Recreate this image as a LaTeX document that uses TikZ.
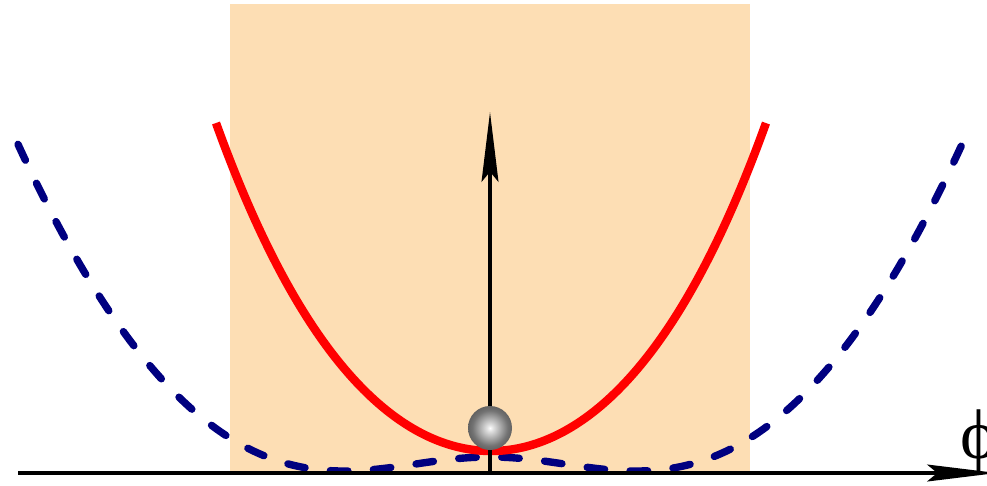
\documentclass[tikz,border=0pt]{standalone}
\usepackage{fontspec}
\setmainfont{Liberation Serif}
\usetikzlibrary{arrows.meta}
\definecolor{peach}{RGB}{253,222,180}
\definecolor{navyb}{RGB}{0,0,128}
\pgfdeclareradialshading{sphereshade}{\pgfpoint{0bp}{0bp}}{color(0bp)=(white); color(3bp)=(white!90!black); color(20bp)=(black!55); color(38bp)=(black!78); color(50bp)=(black!90)}
\tikzset{
  axisline/.style={line width=2pt, -{Stealth[length=39.7pt, width=9.6pt, inset=5.7pt]}},
  redcurve/.style={red, line width=4.8pt},
  bluecurve/.style={navyb, line width=4.2pt, line cap=round, dash pattern=on 10pt off 14.5pt},
  sphere/.style={circle, minimum size=0.88cm, inner sep=0pt, shading=sphereshade},
  philabel/.style={inner sep=0pt, font=\fontsize{40}{40}\selectfont}
}
\begin{document}
\begin{tikzpicture}[x=0.02cm, y=-0.02cm]
\useasboundingbox (0,0) rectangle (987,485);
\clip (0,0) rectangle (987,485);
\fill[peach] (230,4) rectangle (750,473);
\draw[bluecurve] plot[domain=-4.72:4.72, samples=200, smooth] ({490+100*\x}, {471-40*(sqrt(\x*\x+2.262)-2.096)^2});
\draw[redcurve] plot[domain=-2.75:2.75, samples=150, smooth] ({491+100*\x}, {473-(22+36.29*\x*\x+0.937*\x*\x*\x*\x)});
\coordinate (origin) at (18,473);
\coordinate (axisend) at (997,473);
\coordinate (base) at (490,473);
\coordinate (vtip) at (490,112);
\draw[axisline] (origin) -- (axisend);
\draw[axisline] (base) -- (vtip);
\node[sphere] (ball) at (490,428) {};
\node[philabel, anchor=base] (phi) at (979,458) {ϕ};
\end{tikzpicture}
\end{document}
